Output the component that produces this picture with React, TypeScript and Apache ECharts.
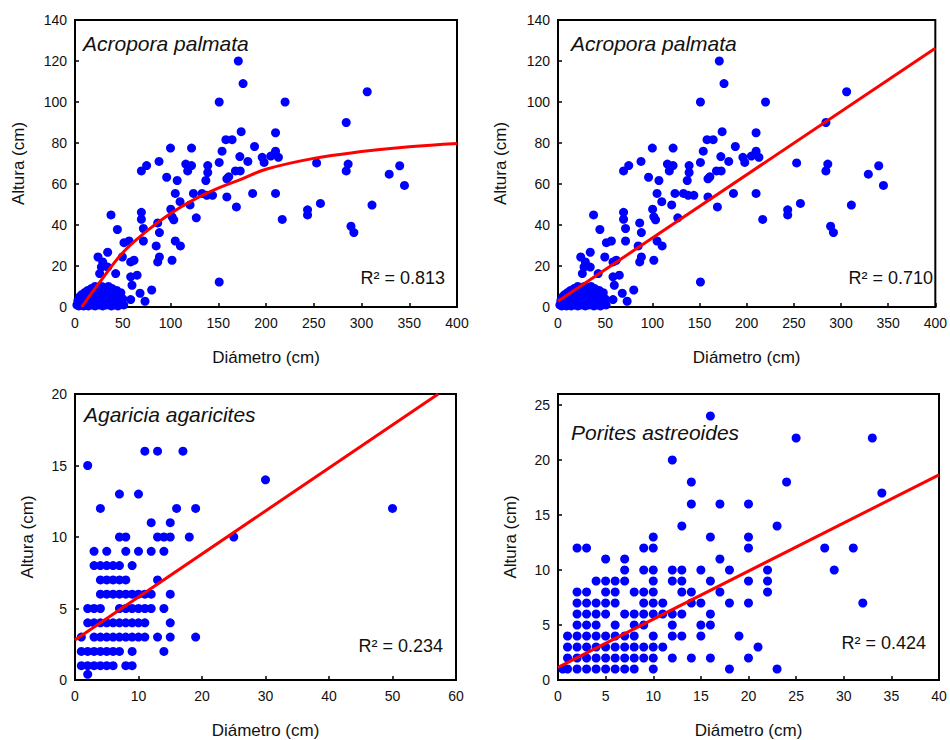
import React, { useEffect, useRef } from "react";
import * as echarts from "echarts";

// Acropora palmata: [diámetro, altura]
const acroporaPoints: number[][] = [
  [171, 120], [176, 109], [151, 100], [220, 100], [306, 105], [284, 90], [174, 85.5], [210, 85],
  [100, 77.5], [122, 77.5], [154, 76], [188, 78.3], [172.6, 73.4], [196, 73], [198, 70.5], [205, 73.6],
  [210, 76], [213, 73], [181, 71], [88, 71], [75, 69], [69.5, 66.4], [116, 69.7], [122, 69],
  [118, 66.4], [139, 69], [139, 65.6], [151, 70.5], [168, 66.4], [173, 66.4], [158, 81.6], [164.5, 81.6],
  [96, 63.3], [107, 61.7], [137, 61.7], [159, 62.5], [161, 63.5], [105, 55.4], [110, 51.4], [120.5, 49.8],
  [124, 55.4], [133, 55.4], [138, 54.5], [144, 54.5], [159, 53.7], [169, 48.8], [186, 55.4], [210, 55.4],
  [217, 42.7], [253, 70.3], [257, 50.5], [243.5, 47.4], [243.5, 44.9], [284, 66.4], [286, 69.7], [289, 39.4],
  [292, 36.3], [311, 49.7], [329, 64.8], [340, 68.9], [345, 59.3], [151, 12.2], [69.5, 46.2], [69.5, 42.8],
  [71.6, 38.3], [71.6, 32.2], [86.6, 41], [88.4, 36.3], [85, 29.8], [101.6, 44], [103.4, 42.5], [100.3, 47.7],
  [105, 32.2], [110.4, 29.8], [127, 43.5], [88.4, 24.4], [86.6, 22], [101.6, 22.8], [37.7, 44.9], [44.4, 37.8],
  [51.3, 31.4], [56.6, 32.2], [34.2, 26.7], [49.6, 24.4], [58.3, 22], [61.8, 22.8], [24.1, 24.4], [29, 22],
  [27.6, 19.5], [34.2, 19.5], [42.6, 16.3], [25.8, 16.3], [58.3, 14.7], [65, 15.5], [59.7, 10.6], [80.3, 8.3],
  [68.1, 6.7], [73.3, 2.8], [58.3, 3.6],
  [2, 1], [3, 3], [4, 0.5], [5, 2], [5, 5], [6, 4], [7, 1], [7, 6], [8, 3], [9, 5], [9, 0.5], [10, 2],
  [10, 7], [11, 4], [12, 1], [12, 6], [13, 8], [14, 3], [14, 0.5], [15, 5], [16, 2], [16, 7], [17, 9], [18, 4],
  [18, 1], [19, 6], [20, 3], [20, 8], [21, 0.5], [21, 10], [22, 5], [23, 2], [23, 7], [24, 9], [25, 4], [25, 1],
  [26, 6], [27, 3], [27, 8], [28, 10], [29, 0.5], [29, 5], [30, 2], [30, 7], [31, 9], [32, 4], [33, 1], [33, 6],
  [34, 3], [35, 8], [35, 10], [36, 5], [37, 2], [38, 7], [38, 0.5], [39, 9], [40, 4], [41, 1], [42, 6], [43, 3],
  [43.7, 8.1], [45, 0.5], [46, 5], [47, 2], [48, 7], [50, 4], [51, 1], [45.4, 2.4],
];

// Agaricia agaricites: [diámetro, altura]
const agariciaPoints: number[][] = [
  [11, 16], [13, 16], [17, 16], [2, 15], [30, 14], [7, 13], [10, 13], [4, 12], [16, 12], [19, 12], [50, 12],
  [12, 11], [15, 11], [7, 10], [8, 10], [13, 10], [14, 10], [15, 10], [18, 10], [25, 10],
  [3, 9], [5, 9], [8, 9], [10, 9], [12, 9], [14, 9],
  [3, 8], [4, 8], [5, 8], [6, 8], [7, 8], [9, 8],
  [4, 7], [5, 7], [6, 7], [7, 7], [8, 7], [13, 7],
  [4, 6], [5, 6], [6, 6], [7, 6], [8, 6], [9, 6], [10, 6], [11, 6], [12, 6], [15, 6],
  [2, 5], [3, 5], [4, 5], [7, 5], [8, 5], [9, 5], [10, 5], [11, 5], [12, 5], [14, 5],
  [2, 4], [3, 4], [4, 4], [5, 4], [6, 4], [7, 4], [8, 4], [9, 4], [10, 4], [11, 4], [15, 4],
  [1, 3], [3, 3], [4, 3], [5, 3], [6, 3], [7, 3], [8, 3], [9, 3], [10, 3], [11, 3], [13, 3], [15, 3], [19, 3],
  [1, 2], [2, 2], [3, 2], [4, 2], [5, 2], [6, 2], [7, 2], [9, 2], [14, 2],
  [1, 1], [2, 1], [3, 1], [4, 1], [5, 1], [6, 1], [8, 1], [9, 1], [2, 0.4],
];

// Porites astreoides: [diámetro, altura]
const poritesPoints: number[][] = [
  [16, 24], [25, 22], [33, 22], [12, 20], [14, 18], [24, 18], [34, 17], [14, 16], [17, 16], [20, 16],
  [13, 14], [23, 14], [10, 13], [16, 13], [20, 13],
  [2, 12], [3, 12], [9, 12], [10, 12], [20, 12], [28, 12], [31, 12], [5, 11], [7, 11], [17, 11],
  [7, 10], [9, 10], [10, 10], [12, 10], [13, 10], [15, 10], [18, 10], [22, 10], [29, 10],
  [4, 9], [5, 9], [6, 9], [7, 9], [10, 9], [12, 9], [13, 9], [16, 9], [20, 9], [22, 9],
  [2, 8], [3, 8], [5, 8], [6, 8], [8, 8], [9, 8], [10, 8], [13, 8], [14, 8], [17, 8], [22, 8],
  [2, 7], [3, 7], [4, 7], [5, 7], [6, 7], [9, 7], [10, 7], [11, 7], [14, 7], [15, 7], [18, 7], [20, 7], [32, 7],
  [2, 6], [3, 6], [4, 6], [5, 6], [7, 6], [8, 6], [9, 6], [10, 6], [11, 6], [12, 6], [13, 6], [16, 6],
  [2, 5], [3, 5], [4, 5], [6, 5], [8, 5], [9, 5], [12, 5], [15, 5], [16, 5],
  [1, 4], [2, 4], [3, 4], [4, 4], [5, 4], [6, 4], [7, 4], [8, 4], [10, 4], [12, 4], [13, 4], [15, 4], [19, 4],
  [1, 3], [2, 3], [3, 3], [4, 3], [5, 3], [6, 3], [7, 3], [8, 3], [9, 3], [10, 3], [11, 3], [21, 3],
  [1, 2], [2, 2], [3, 2], [4, 2], [5, 2], [6, 2], [7, 2], [8, 2], [9, 2], [10, 2], [12, 2], [14, 2], [16, 2], [20, 2],
  [0.5, 1], [1, 1], [2, 1], [3, 1], [4, 1], [5, 1], [6, 1], [7, 1], [8, 1], [10, 1], [18, 1], [23, 1],
];

// Fitted lines
const acroporaCurve: number[][] = [
  [7, 0], [25, 11.5], [50, 26.5], [75, 37], [100, 45.6], [125, 52.5], [150, 58], [175, 62.5],
  [200, 67.2], [250, 72.5], [300, 75.8], [350, 78.2], [400, 79.8],
];
const acroporaLine: number[][] = [[0, 2.8], [400, 126.2]];
const agariciaLine: number[][] = [[0, 2.8], [57.2, 20]];
const poritesLine: number[][] = [[0, 1.15], [40, 18.65]];

const panelTitles = ["Acropora palmata", "Acropora palmata", "Agaricia agaricites", "Porites astreoides"];
const r2Labels = ["R² = 0.813", "R² = 0.710", "R² = 0.234", "R² = 0.424"];
const xMaxes = [400, 400, 60, 40];
const xIntervals = [50, 50, 10, 5];
const yMaxes = [140, 140, 20, 26];
const yIntervals = [20, 20, 5, 5];
const xAxisTitle = "Diámetro (cm)";
const yAxisTitle = "Altura (cm)";

const FONT = "'Liberation Sans', Arial, Helvetica, sans-serif";

const grids = [
  { left: 75, top: 20, width: 382, height: 287 },
  { left: 558, top: 20, width: 381, height: 287 },
  { left: 75, top: 394, width: 381, height: 288 },
  { left: 558, top: 394, width: 381, height: 288 },
];
const yNameGaps = [48, 49, 39, 39];
const titlePos = [
  [83, 43], [571, 43], [84, 414], [571, 432],
];
const r2Pos = [
  [445, 278], [933, 278], [443, 646], [926, 643],
];

export default function App() {
  const ref = useRef<HTMLDivElement>(null);
  useEffect(() => {
    if (!ref.current) return;
    const chart = echarts.init(ref.current, undefined, { renderer: "svg" });
    const scatterSets = [acroporaPoints, acroporaPoints, agariciaPoints, poritesPoints];
    const fitSets = [acroporaCurve, acroporaLine, agariciaLine, poritesLine];

    const xAxis = grids.map((_, i) => ({
      type: "value",
      gridIndex: i,
      min: 0,
      max: xMaxes[i],
      interval: xIntervals[i],
      name: xAxisTitle,
      nameLocation: "middle",
      nameGap: 42,
      nameTextStyle: { fontFamily: FONT, fontSize: 17, color: "#111" },
      axisLine: { show: true, onZero: false, lineStyle: { color: "#000", width: 2 } },
      axisTick: { show: true, inside: true, length: 4, lineStyle: { color: "#000", width: 1.5 } },
      axisLabel: { fontFamily: FONT, fontSize: 14, color: "#111", margin: 9 },
      splitLine: { show: false },
    }));
    const yAxis = grids.map((_, i) => ({
      type: "value",
      gridIndex: i,
      min: 0,
      max: yMaxes[i],
      interval: yIntervals[i],
      name: yAxisTitle,
      nameLocation: "middle",
      nameGap: yNameGaps[i],
      nameRotate: 90,
      nameTextStyle: { fontFamily: FONT, fontSize: 17, color: "#111" },
      axisLine: { show: true, onZero: false, lineStyle: { color: "#000", width: 2 } },
      axisTick: { show: true, inside: true, length: 4, lineStyle: { color: "#000", width: 1.5 } },
      axisLabel: { fontFamily: FONT, fontSize: 14, color: "#111", margin: 8, showMaxLabel: i === 3 ? false : true },
      splitLine: { show: false },
    }));

    const series: any[] = [];
    scatterSets.forEach((pts, i) => {
      series.push({
        type: "scatter",
        xAxisIndex: i,
        yAxisIndex: i,
        data: pts,
        symbol: "circle",
        symbolSize: 9,
        itemStyle: { color: "#0000FF", opacity: 1 },
        z: 2,
        silent: true,
      });
    });
    fitSets.forEach((pts, i) => {
      series.push({
        type: "line",
        xAxisIndex: i,
        yAxisIndex: i,
        data: pts,
        smooth: i === 0 ? 0.4 : false,
        showSymbol: false,
        symbol: "none",
        lineStyle: { color: "#FF0000", width: 3 },
        z: 3,
        silent: true,
        clip: true,
      });
    });

    const graphic: any[] = [];
    panelTitles.forEach((t, i) => {
      graphic.push({
        type: "text",
        x: titlePos[i][0],
        y: titlePos[i][1],
        z: 10,
        style: {
          text: t,
          fontFamily: FONT,
          fontSize: 21,
          fontStyle: "italic",
          fill: "#111",
          textAlign: "left",
          textVerticalAlign: "middle",
          verticalAlign: "middle",
        },
      });
    });
    r2Labels.forEach((t, i) => {
      graphic.push({
        type: "text",
        x: r2Pos[i][0],
        y: r2Pos[i][1],
        z: 10,
        style: {
          text: t,
          fontFamily: FONT,
          fontSize: 18,
          fill: "#111",
          textAlign: "right",
          align: "right",
          verticalAlign: "middle",
          textVerticalAlign: "middle",
        },
      });
    });

    chart.setOption({
      animation: false,
      backgroundColor: "#fff",
      grid: grids.map((g) => ({
        ...g,
        show: true,
        borderColor: "#000",
        borderWidth: 2,
        backgroundColor: "transparent",
        containLabel: false,
      })),
      xAxis,
      yAxis,
      series,
      graphic,
    });
    return () => chart.dispose();
  }, []);
  return (
    <div
      ref={ref}
      style={{ position: "absolute", left: 0, top: 0, width: 950, height: 740 }}
    />
  );
}
